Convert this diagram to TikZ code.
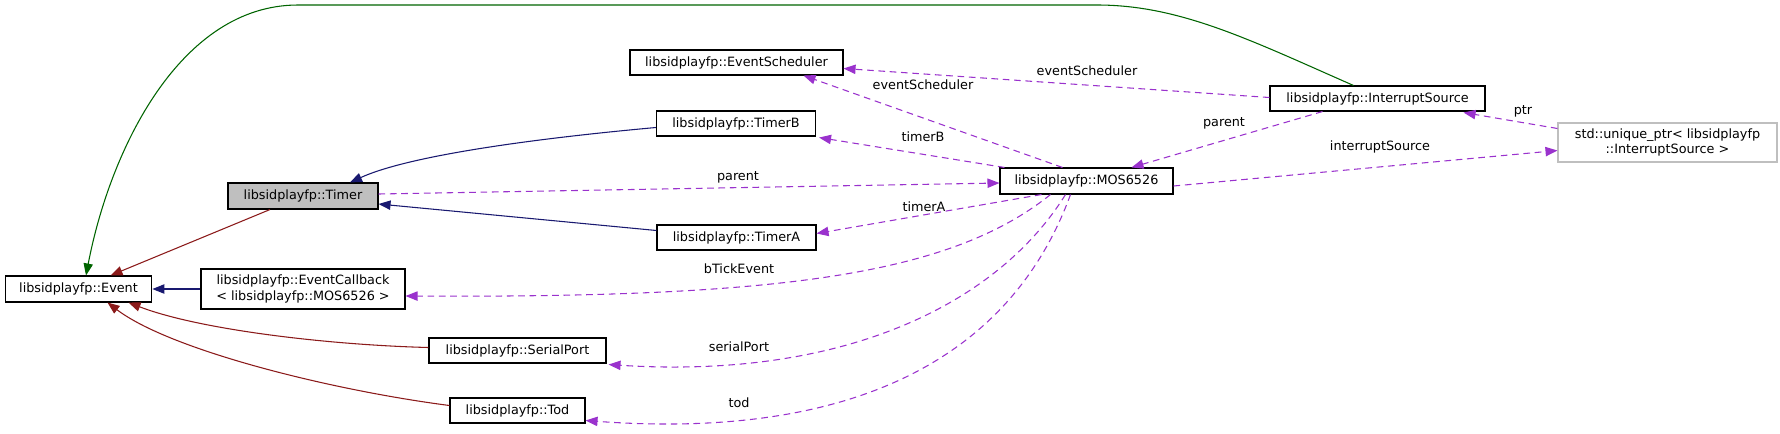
\documentclass[tikz,border=0pt]{standalone}
\usepackage{fontspec}
\setmainfont{DejaVu Sans}
\usetikzlibrary{arrows.meta,calc}
\definecolor{pur}{HTML}{9A32CD}
\definecolor{dred}{HTML}{8B1A1A}
\definecolor{navy}{HTML}{191970}
\definecolor{dgreen}{HTML}{006400}
\begin{document}
\begin{tikzpicture}[x=0.75pt,y=-0.75pt,
  box/.style={draw=black,line width=0.8pt,inner sep=0pt,align=center,font=\fontsize{9.6}{11.5}\selectfont},
  lbl/.style={font=\fontsize{9.6}{11.5}\selectfont,inner sep=0pt},
  tip/.style={-{Triangle[length=9pt,width=7pt]}},
  use/.style={tip,draw=pur,line width=0.8pt,dash pattern=on 5pt off 3.5pt},
  inh/.style={tip,line width=0.8pt}]
\useasboundingbox (0,0) rectangle (1780,433);
\node[box,minimum width=110pt,minimum height=19.5pt] (event) at (78.5,289) {libsidplayfp::Event};
\node[box,fill={rgb,255:red,191;green,191;blue,191},minimum width=112.5pt,minimum height=19.5pt] (timer) at (303,196) {libsidplayfp::Timer};
\node[box,minimum width=153pt,minimum height=30pt] (ecb) at (303,289) {libsidplayfp::EventCallback\\{}< libsidplayfp::MOS6526 >};
\node[box,minimum width=132.75pt,minimum height=18.75pt] (serial) at (517.5,350.5) {libsidplayfp::SerialPort};
\node[box,minimum width=101.25pt,minimum height=18.75pt] (tod) at (517.5,410.5) {libsidplayfp::Tod};
\node[box,minimum width=159.75pt,minimum height=18.75pt] (es) at (736.5,62.5) {libsidplayfp::EventScheduler};
\node[box,minimum width=119.25pt,minimum height=18.75pt] (timerb) at (736,123.5) {libsidplayfp::TimerB};
\node[box,minimum width=119.25pt,minimum height=18.75pt] (timera) at (736.5,237.5) {libsidplayfp::TimerA};
\node[box,minimum width=129.75pt,minimum height=19.5pt] (mos) at (1086.5,181) {libsidplayfp::MOS6526};
\node[box,minimum width=161.25pt,minimum height=18.75pt] (is) at (1377.5,98.5) {libsidplayfp::InterruptSource};
\node[box,draw={rgb,255:red,191;green,191;blue,191},minimum width=164.25pt,minimum height=29.25pt] (uptr) at (1667.5,142.5) {std::unique\_ptr< libsidplayfp\\::InterruptSource >};

% inheritance
\draw[inh,draw=dred] ($(timer.south)+(-33,0)$) -- ($(event.north)+(32,0)$);
\draw[inh,draw=navy] (ecb.west) -- (event.east);
\draw[inh,draw=dred] ($(serial.west)+(0,-3)$) .. controls (330,345) and (200,330) .. ($(event.south)+(50,0)$);
\draw[inh,draw=dred] ($(tod.west)+(0,-5)$) .. controls (330,390) and (170,350) .. ($(event.south)+(29,0)$);
\draw[inh,draw=dgreen] ($(is.north)+(-24,0)$) .. controls (1250,40) and (1180,5) .. (1097,5) -- (298,5) .. controls (180,5) and (110,150) .. ($(event.north)+(7.5,0)$);
\draw[inh,draw=navy] ($(timerb.west)+(0,4)$) .. controls (540,138) and (410,155) .. ($(timer.north)+(47,0)$);
\draw[inh,draw=navy] ($(timera.west)+(0,-7)$) -- ($(timer.east)+(0,8)$);

% usage
\draw[use] ($(timer.east)+(0,-2)$) -- ($(mos.west)+(0,2)$);
\draw[use] ($(mos.north)+(-24,0)$) -- ($(es.south)+(67,0)$);
\draw[use] ($(is.west)+(0,-1)$) -- ($(es.east)+(0,6)$);
\draw[use] ($(mos.north west)+(5,0)$) -- ($(timerb.south east)+(3,1)$);
\draw[use] ($(mos.south)+(-45,0)$) -- ($(timera.east)+(0,-4)$);
\draw[use] ($(mos.south)+(-36,0)$) .. controls (950,275) and (780,298) .. ($(ecb.east)+(0,7)$);
\draw[use] ($(mos.south)+(-21,0)$) .. controls (1000,300) and (850,380) .. ($(serial.south east)+(2,1)$);
\draw[use] ($(mos.south)+(-16,0)$) .. controls (1010,360) and (850,440) .. ($(tod.east)+(0,10)$);
\draw[use] ($(is.south)+(-55,0)$) -- ($(mos.north)+(45,0)$);
\draw[use] ($(mos.east)+(0,5)$) -- ($(uptr.west)+(0,8)$);
\draw[use] ($(uptr.west)+(0,-14)$) -- ($(is.south east)+(-22,1)$);

% labels
\node[lbl] (l1) at (738,177) {parent};
\node[lbl] (l2) at (923,85) {eventScheduler};
\node[lbl] (l3) at (1087,71) {eventScheduler};
\node[lbl] (l4) at (923,137) {timerB};
\node[lbl] (l5) at (924,207) {timerA};
\node[lbl] (l6) at (739,269) {bTickEvent};
\node[lbl] (l7) at (739,347) {serialPort};
\node[lbl] (l8) at (739,403) {tod};
\node[lbl] (l9) at (1224,123) {parent};
\node[lbl] (l10) at (1380,147) {interruptSource};
\node[lbl] (l11) at (1523,111) {ptr};
\end{tikzpicture}
\end{document}
